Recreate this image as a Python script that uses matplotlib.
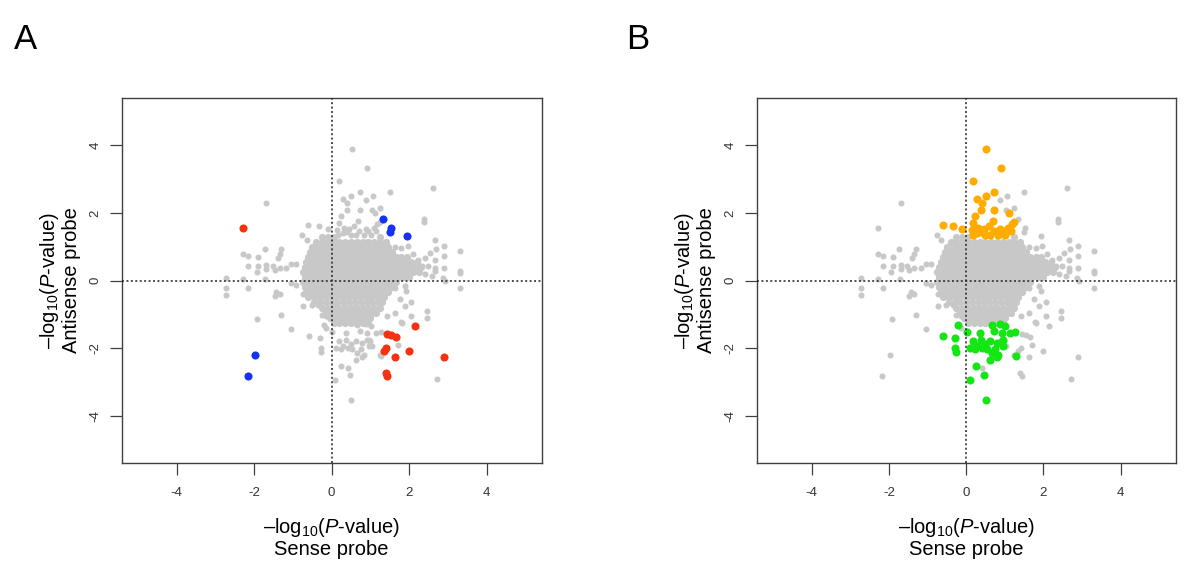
import matplotlib
matplotlib.use("Agg")
import matplotlib.pyplot as plt

plt.rcParams['font.family'] = ['Liberation Sans', 'DejaVu Sans']
plt.rcParams['mathtext.fontset'] = 'custom'
plt.rcParams['mathtext.rm'] = 'Liberation Sans'
plt.rcParams['mathtext.it'] = 'Liberation Sans:italic'

# dense core of the cloud, read row by row: y -> x positions
core_rows = [
    (1.30, [-0.25, -0.10, 0.05, 1.25]),
    (1.15, [-0.40, -0.25, -0.10, 0.05, 0.20, 0.35, 0.50, 0.65, 0.80, 0.95, 1.10, 1.25, 1.40]),
    (1.00, [-0.50, -0.35, -0.20, -0.05, 0.10, 0.25, 0.40, 0.55, 0.70, 0.85, 1.00, 1.15, 1.30, 1.45]),
    (0.85, [-0.55, -0.40, -0.25, -0.10, 0.05, 0.20, 0.35, 0.50, 0.65, 0.80, 0.95, 1.10, 1.25, 1.40, 1.55]),
    (0.70, [-0.60, -0.45, -0.30, -0.15, 0.00, 0.15, 0.30, 0.45, 0.60, 0.75, 0.90, 1.05, 1.20, 1.35,
            1.50, 1.65, 1.80, 1.95]),
    (0.55, [-0.65, -0.50, -0.35, -0.20, -0.05, 0.10, 0.25, 0.40, 0.55, 0.70, 0.85, 1.00, 1.15, 1.30,
            1.45, 1.60, 1.75, 1.90, 2.05, 2.20]),
    (0.40, [-0.70, -0.55, -0.40, -0.25, -0.10, 0.05, 0.20, 0.35, 0.50, 0.65, 0.80, 0.95, 1.10, 1.25,
            1.40, 1.55, 1.70, 1.85, 2.00, 2.15, 2.30]),
    (0.25, [-0.75, -0.60, -0.45, -0.30, -0.15, 0.00, 0.15, 0.30, 0.45, 0.60, 0.75, 0.90, 1.05, 1.20,
            1.35, 1.50, 1.65, 1.80, 1.95, 2.10, 2.25]),
    (0.10, [-0.70, -0.55, -0.40, -0.25, -0.10, 0.05, 0.20, 0.35, 0.50, 0.65, 0.80, 0.95, 1.10, 1.25,
            1.40, 1.55, 1.70, 1.85, 2.00]),
    (-0.05, [-0.75, -0.60, -0.45, -0.30, -0.15, 0.00, 0.15, 0.30, 0.45, 0.60, 0.75, 0.90, 1.05, 1.20,
             1.35, 1.50, 1.65]),
    (-0.20, [-0.70, -0.55, -0.40, -0.25, -0.10, 0.05, 0.20, 0.35, 0.50, 0.65, 0.80, 0.95, 1.10, 1.25,
             1.40, 1.55]),
    (-0.35, [-0.65, -0.50, -0.35, -0.20, -0.05, 0.10, 0.25, 0.40, 0.55, 0.70, 0.85, 1.00, 1.15, 1.30, 1.45]),
    (-0.50, [-0.60, -0.45, -0.30, -0.15, 0.00, 0.15, 0.30, 0.45, 0.60, 0.75, 0.90, 1.05, 1.20, 1.35]),
    (-0.65, [-0.45, -0.30, -0.15, 0.00, 0.15, 0.30, 0.45, 0.60, 0.75, 0.90, 1.05, 1.20, 1.30]),
    (-0.80, [-0.25, -0.10, 0.05, 0.20, 0.35, 0.50, 0.65, 0.80, 0.95, 1.10, 1.25]),
    (-0.95, [-0.15, 0.00, 0.15, 0.30, 0.45, 0.60, 0.75, 0.90, 1.05, 1.15]),
    (-1.10, [-0.05, 0.10, 0.25, 0.40, 0.55, 0.70, 0.85, 1.00]),
    (-1.25, [0.05, 0.20, 0.35, 0.50, 0.65, 0.80, 0.95]),
]

# scattered grey points around the core
outer_x = [2.61, 1.50, 1.07, 0.88, -1.69, 1.04, 1.25, 2.37, 2.37, -0.76, -0.64, 2.66,
           1.97, 2.10, 2.23, 2.40, 2.53, 2.70, 2.66, 2.49, 2.66, 2.32, 2.89, 2.89, 2.89, 3.31, 3.31,
           1.63, 1.80,
           -1.73, -1.30, -1.34, -1.39, -2.29, -2.16, -1.90, -2.16, -1.90, -1.69, -1.69, -1.52, -1.47,
           -1.34, -1.17, -1.04, -0.91, -1.94,
           -2.72, -2.72, -2.72, -2.29, -2.16, -1.71, -1.43, -1.34, -1.47, -1.04, -0.91,
           -1.92, -1.30, -1.04, -0.74, -0.74, -0.52, -0.35, -0.14, -0.14, -0.26,
           0.42, 1.03, 1.70, 1.63, 1.78, 2.06, 2.45, 2.45, 1.76, 2.06, 1.89, 1.63, 1.89, 1.93,
           2.40, 2.58, 2.66, 2.88, 2.92, 3.31, 3.31, 2.72, 1.42, 1.81, 0.99, 1.24, 0.90]
outer_y = [2.73, 2.63, 2.51, 2.38, 2.29, 2.10, 2.14, 1.82, 1.72, 1.34, 1.21, 1.21,
           1.01, 0.77, 0.62, 0.67, 0.82, 0.92, 0.62, 0.42, 0.38, 0.42, 1.01, 0.72, 0.38, 0.87, 0.28,
           1.00, 0.95,
           0.92, 0.92, 0.77, 0.67, 0.79, 0.72, 0.69, 0.44, 0.44, 0.47, 0.33, 0.42, 0.30,
           0.38, 0.38, 0.50, 0.50, 0.24,
           0.08, -0.22, -0.44, 0.03, -0.22, 0.03, -0.35, -0.41, -0.46, -0.07, -0.12,
           -1.15, -1.03, -1.43, -0.41, -0.76, -0.71, -0.71, -1.06, -1.40, -1.03,
           -2.58, -1.94, -1.92, -0.96, -1.23, -1.06, -0.91, -1.10, -0.56, -0.64, -0.76, -0.22, -0.17, -0.32,
           0.18, 0.13, 0.28, 0.08, -0.02, 0.23, -0.22, -2.90, -1.06, -1.26, -1.80, -2.19, -1.75]

# panel A highlights
red_x = [-2.29, 2.14, 1.44, 1.54, 1.65, 1.41, 1.34, 2.00, 1.63, 2.89, 1.39, 1.44]
red_y = [1.54, -1.35, -1.58, -1.62, -1.66, -1.99, -2.09, -2.07, -2.26, -2.27, -2.73, -2.83]
blue_x = [1.33, 1.52, 1.50, 1.94, -1.97, -2.17]
blue_y = [1.83, 1.56, 1.43, 1.31, -2.21, -2.83]

# panel B highlights
orange_x = [0.52, 0.90, 0.19, 0.73, 0.51, 0.29, 0.40, 0.39, 0.73, 1.12, 0.23, -0.60, -0.33, -0.10,
            0.19, 0.32, 0.17, 0.45, 0.58, 0.69, 0.71, 0.88, 1.01, 1.09, 1.18, 1.25, 0.49, 0.83,
            0.28, 0.62, 0.15, 0.40, 0.95, 1.15]
orange_y = [3.90, 3.33, 2.94, 2.62, 2.49, 2.42, 2.30, 2.10, 2.10, 2.00, 1.90, 1.65, 1.61, 1.51,
            1.71, 1.56, 1.36, 1.51, 1.61, 1.75, 1.46, 1.51, 1.36, 1.56, 1.66, 1.73, 1.36, 1.36,
            1.41, 1.36, 1.50, 1.42, 1.45, 1.45]
green_x = [-0.20, -0.59, -0.30, 0.02, -0.28, -0.27, 0.09, 0.25, 0.47, 0.51, 1.28, 0.62, 0.79,
           0.66, 0.88, 1.01, 0.72, 0.92, 1.14, 1.27, 0.36, 0.38, 0.19, 0.10, 0.28, 0.49, 0.62,
           0.79, 0.96, 0.75, 0.66, 0.83, 0.53, 0.41, 0.23, 0.96]
green_y = [-1.32, -1.65, -1.70, -1.52, -1.99, -2.12, -2.93, -2.54, -2.80, -3.52, -2.24, -2.34, -2.26,
           -1.33, -1.30, -1.35, -1.50, -1.55, -1.55, -1.52, -1.55, -1.75, -1.80, -1.99, -1.94, -1.89,
           -1.80, -1.84, -1.75, -2.04, -2.14, -2.19, -2.04, -1.99, -2.02, -1.94]

ticks = [-4, -2, 0, 2, 4]
GREY = '#c8c8c8'
AXCOL = '#404040'


def core_points():
    xs, ys = [], []
    for y, row in core_rows:
        xs += row
        ys += [y] * len(row)
    return xs, ys


def draw_panel(ax, other, marks):
    cx, cy = core_points()
    ax.scatter(cx, cy, s=27, color=GREY, linewidths=0, zorder=2)
    gx, gy = list(outer_x), list(outer_y)
    for ox, oy in other:
        gx = gx + ox
        gy = gy + oy
    ax.scatter(gx, gy, s=19, color=GREY, linewidths=0, zorder=2)
    for hx, hy, col in marks:
        ax.scatter(hx, hy, s=34, color=col, linewidths=0, zorder=3)

    ax.axhline(0, color='#222222', lw=1.1, ls=(0, (1.3, 1.6)), zorder=4)
    ax.axvline(0, color='#222222', lw=1.1, ls=(0, (1.3, 1.6)), zorder=4)

    ax.set_xlim(-5.42, 5.42)
    ax.set_ylim(-5.4, 5.4)
    ax.set_xticks(ticks)
    ax.set_yticks(ticks)
    ax.set_xticklabels([str(t) for t in ticks])
    ax.set_yticklabels([str(t) for t in ticks], rotation=90, va='center')
    ax.tick_params(direction='out', length=8.5, width=0.9, color=AXCOL,
                   labelcolor='#333333', labelsize=9.5)
    ax.tick_params(axis='x', pad=9)
    ax.tick_params(axis='y', pad=6)
    for sp in ax.spines.values():
        sp.set_color(AXCOL)
        sp.set_linewidth(1.0)

    ax.set_xlabel('–log$_{\\mathrm{10}}$($\\mathit{P}$-value)\nSense probe',
                  fontsize=14.5, labelpad=12, linespacing=1.05)
    ax.set_ylabel('–log$_{\\mathrm{10}}$($\\mathit{P}$-value)\nAntisense probe',
                  fontsize=14.5, labelpad=6, linespacing=1.05)


def main():
    fig = plt.figure(figsize=(12, 5.76), dpi=100)
    ax_a = fig.add_axes([0.1014, 0.196, 0.35, 0.634])
    ax_b = fig.add_axes([0.6306, 0.196, 0.349, 0.634])

    draw_panel(ax_a, [(orange_x, orange_y), (green_x, green_y)],
               [(red_x, red_y, '#f5320f'), (blue_x, blue_y, '#1432f0')])
    draw_panel(ax_b, [(red_x, red_y), (blue_x, blue_y)],
               [(orange_x, orange_y, '#ffab00'), (green_x, green_y, '#14e614')])

    fig.text(0.012, 0.915, 'A', fontsize=25)
    fig.text(0.522, 0.915, 'B', fontsize=25)

    fig.savefig('out.png', dpi=100)
    plt.close(fig)


if __name__ == "__main__":
    main()
